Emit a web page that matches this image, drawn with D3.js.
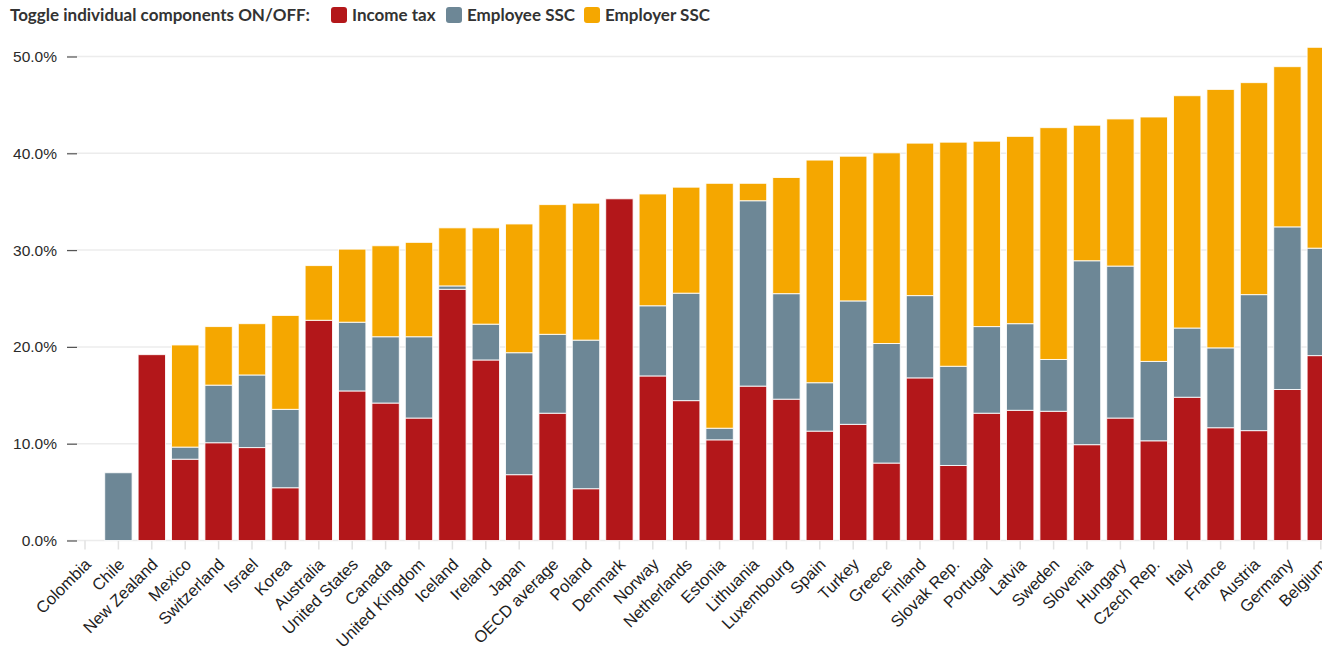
<!DOCTYPE html>
<html lang="en">
<head>
<meta charset="UTF-8">
<title>Tax wedge components</title>
<script src="https://d3js.org/d3.v7.min.js"></script>
<style>
  body { margin: 0; background: #fff; }
  svg { display: block; font-family: Lato, "Open Sans", sans-serif; }
</style>
</head>
<body>
<svg id="chart" width="1322" height="654"></svg>
<script>
// values (% of labour costs)
const countries = ["Colombia", "Chile", "New Zealand", "Mexico", "Switzerland", "Israel", "Korea", "Australia",
  "United States", "Canada", "United Kingdom", "Iceland", "Ireland", "Japan", "OECD average", "Poland",
  "Denmark", "Norway", "Netherlands", "Estonia", "Lithuania", "Luxembourg", "Spain", "Turkey", "Greece",
  "Finland", "Slovak Rep.", "Portugal", "Latvia", "Sweden", "Slovenia", "Hungary", "Czech Rep.", "Italy",
  "France", "Austria", "Germany", "Belgium"];
const incomeTax = [0, 0, 19.2, 8.4, 10.1, 9.6, 5.45, 22.75, 15.45, 14.2, 12.65, 25.95, 18.65, 6.8, 13.15, 5.35,
  35.3, 17.0, 14.45, 10.4, 15.95, 14.6, 11.3, 12.0, 8.0, 16.8, 7.75, 13.15, 13.45, 13.35, 9.9, 12.65, 10.3,
  14.8, 11.65, 11.35, 15.6, 19.1];
const employeeSSC = [0, 7.0, 0, 1.25, 5.95, 7.5, 8.1, 0, 7.1, 6.85, 8.4, 0.35, 3.7, 12.6, 8.15, 15.35,
  0, 7.25, 11.1, 1.2, 19.15, 10.9, 5.0, 12.75, 12.35, 8.5, 10.25, 8.95, 8.95, 5.35, 19.0, 15.7, 8.2,
  7.15, 8.25, 14.05, 16.8, 11.1];
const employerSSC = [0, 0, 0, 10.55, 6.05, 5.3, 9.7, 5.65, 7.55, 9.4, 9.75, 6.0, 9.95, 13.3, 13.4, 14.15,
  0, 11.55, 10.95, 25.3, 1.8, 12.0, 23.0, 14.95, 19.7, 15.75, 23.15, 19.15, 19.35, 23.95, 14.0, 15.2, 25.25,
  24.0, 26.7, 21.9, 16.55, 20.75];
const seriesNames = ["Income tax", "Employee SSC", "Employer SSC"];
const seriesColors = ["#b3171a", "#6d8796", "#f5a700"];
const yTicks = [0, 10, 20, 30, 40, 50];

const svg = d3.select("#chart");
const x0 = 68.3, x1 = 1337.5, yBottom = 540.5, yTop = 56.5;

const x = d3.scaleBand().domain(countries).range([x0, x1]).paddingInner(0.18).paddingOuter(0.09);
const y = d3.scaleLinear().domain([0, 50]).range([yBottom, yTop]);
const color = d3.scaleOrdinal().domain(seriesNames).range(seriesColors);

// gridlines
svg.append("g")
  .selectAll("line")
  .data(yTicks)
  .join("line")
  .attr("x1", 67).attr("x2", 1322)
  .attr("y1", d => y(d)).attr("y2", d => y(d))
  .attr("stroke", "#ececec").attr("stroke-width", 1.5);

// y axis
const yAxis = svg.append("g")
  .attr("transform", "translate(77,0)")
  .call(d3.axisLeft(y).tickValues(yTicks).tickFormat(d => d.toFixed(1) + "%").tickSize(10).tickPadding(10));
yAxis.select(".domain").remove();
yAxis.selectAll(".tick line").attr("stroke", "#555").attr("stroke-width", 1.2);
yAxis.selectAll(".tick text").attr("fill", "#2a2a2a").style("font-size", "15.5px");

// x axis
const xAxis = svg.append("g")
  .attr("transform", `translate(0,${yBottom})`)
  .call(d3.axisBottom(x).tickSize(9).tickPadding(6));
xAxis.select(".domain").remove();
xAxis.selectAll(".tick line").attr("stroke", "#e2e2e2").attr("stroke-width", 1.5);
xAxis.selectAll(".tick text")
  .attr("fill", "#1e1e1e")
  .style("font-size", "16.5px")
  .attr("text-anchor", "end")
  .attr("x", 0).attr("y", 0).attr("dy", 0)
  .attr("transform", "translate(7,25) rotate(-45)");

// stacked bars
const rows = countries.map((c, i) => ({
  country: c,
  "Income tax": incomeTax[i],
  "Employee SSC": employeeSSC[i],
  "Employer SSC": employerSSC[i]
}));
const stacked = d3.stack().keys(seriesNames)(rows);

svg.append("g")
  .selectAll("g")
  .data(stacked)
  .join("g")
  .attr("fill", d => color(d.key))
  .selectAll("rect")
  .data(d => d.filter(s => s[1] - s[0] > 0))
  .join("rect")
  .attr("x", d => x(d.data.country))
  .attr("width", x.bandwidth())
  .attr("y", d => y(d[1]))
  .attr("height", d => y(d[0]) - y(d[1]))
  .attr("stroke", "#fff").attr("stroke-opacity", 0.85).attr("stroke-width", 1);

// legend
const legend = svg.append("g").attr("transform", "translate(10,15)");
legend.append("text")
  .attr("x", 0).attr("y", 0).attr("dy", "0.35em")
  .attr("fill", "#333").style("font-size", "17px").style("font-weight", 700)
  .text("Toggle individual components ON/OFF:");
const legendX = [321, 436, 574];
const items = legend.selectAll("g.item")
  .data(seriesNames)
  .join("g").attr("class", "item")
  .attr("transform", (d, i) => `translate(${legendX[i]},0)`);
items.append("rect")
  .attr("x", 0).attr("y", -8).attr("width", 16).attr("height", 16).attr("rx", 3)
  .attr("fill", d => color(d));
items.append("text")
  .attr("x", 21).attr("dy", "0.35em")
  .attr("fill", "#333").style("font-size", "17px").style("font-weight", 700)
  .text(d => d);
</script>
</body>
</html>
